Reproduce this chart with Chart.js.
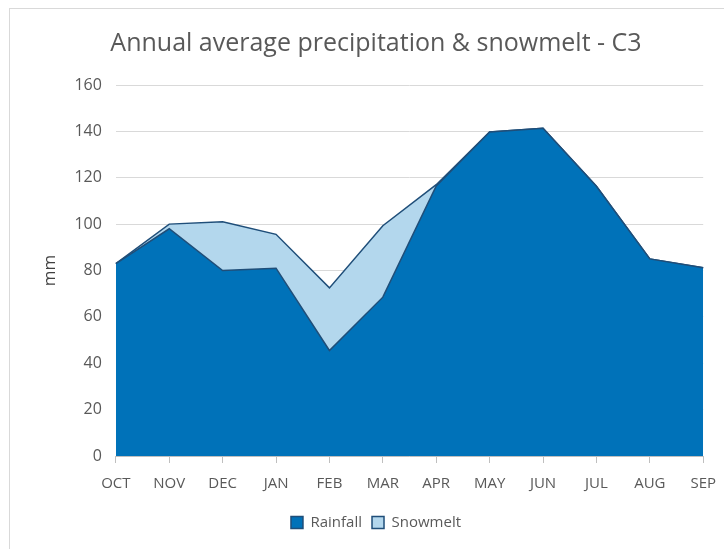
<!DOCTYPE html>
<html>
<head>
<meta charset="utf-8">
<script src="https://cdn.jsdelivr.net/npm/chart.js@4"></script>
<style>
  html, body { margin: 0; padding: 0; background: #fff; overflow: hidden; }
  #frame { position: absolute; left: 9px; top: 8px; width: 740px; height: 560px; border: 1px solid #d9d9d9; }
  canvas { position: absolute; left: 0; top: 0; }
</style>
</head>
<body>
<div id="frame"></div>
<canvas id="chart" width="728" height="549"></canvas>
<script>
const months = ['OCT', 'NOV', 'DEC', 'JAN', 'FEB', 'MAR', 'APR', 'MAY', 'JUN', 'JUL', 'AUG', 'SEP'];
const rainfall = [83, 98, 80, 81, 45.5, 68.5, 116.5, 139.7, 141.3, 116.3, 85, 81.2];
const snowmelt = [0, 2, 21, 14.6, 27, 30.8, 0.5, 0, 0, 0, 0, 0];
const yTicks = [0, 20, 40, 60, 80, 100, 120, 140, 160];

const font = "'Open Sans', 'Liberation Sans', sans-serif";
const textColor = '#595959';
const edge = '#1f4e79';

new Chart(document.getElementById('chart'), {
  type: 'line',
  data: {
    labels: months,
    datasets: [
      {
        label: 'Rainfall',
        data: rainfall,
        backgroundColor: '#0072b9',
        borderColor: edge,
        borderWidth: 1.5,
        fill: 'origin',
        pointRadius: 0,
        tension: 0,
      },
      {
        label: 'Snowmelt',
        data: snowmelt,
        backgroundColor: '#b3d7ed',
        borderColor: edge,
        borderWidth: 1.5,
        fill: '-1',
        pointRadius: 0,
        tension: 0,
      },
    ],
  },
  options: {
    responsive: false,
    animation: false,
    layout: { padding: { left: 40, right: 16, top: 14, bottom: 9 } },
    scales: {
      x: {
        stacked: true,
        offset: false,
        grid: { drawOnChartArea: false, color: '#bfbfbf', tickLength: 7 },
        border: { color: '#bfbfbf' },
        ticks: { color: textColor, font: { family: font, size: 15 }, padding: 12, maxRotation: 0 },
      },
      y: {
        stacked: true,
        min: 0,
        max: 160,
        afterBuildTicks: (axis) => { axis.ticks = yTicks.map(v => ({ value: v })); },
        grid: { color: '#d9d9d9', drawTicks: false },
        border: { display: false },
        ticks: { color: textColor, font: { family: font, size: 16 }, padding: 14 },
        title: { display: true, text: 'mm', color: '#404040', font: { family: font, size: 17 }, padding: 0 },
      },
    },
    plugins: {
      title: {
        display: true,
        text: 'Annual average precipitation & snowmelt - C3',
        color: textColor,
        font: { family: font, size: 25, weight: 'normal' },
        padding: { top: 15, bottom: 26 },
      },
      legend: {
        position: 'bottom',
        labels: {
          color: textColor,
          font: { family: font, size: 15 },
          boxWidth: 12,
          boxHeight: 12,
          padding: 10,
          useBorderRadius: false,
        },
      },
      tooltip: { enabled: false },
    },
  },
});
</script>
</body>
</html>
